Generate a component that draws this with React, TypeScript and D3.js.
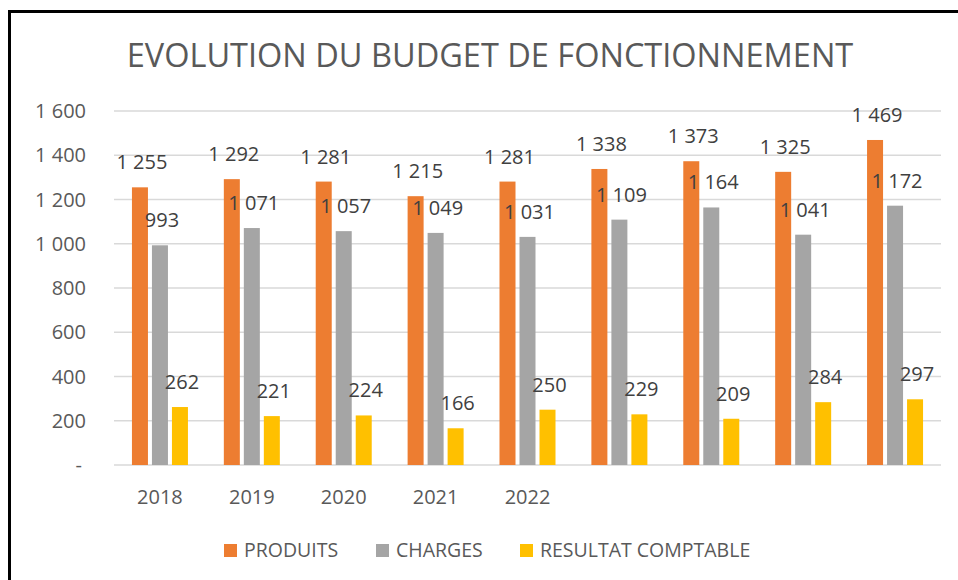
import React from 'react';
import * as d3 from 'd3';

// chart values
const years = ['2018', '2019', '2020', '2021', '2022', '', '', '', ''];
const produits = [1255, 1292, 1281, 1215, 1281, 1338, 1373, 1325, 1469];
const charges = [993, 1071, 1057, 1049, 1031, 1109, 1164, 1041, 1172];
const resultat = [262, 221, 224, 166, 250, 229, 209, 284, 297];
const seriesNames = ['PRODUITS', 'CHARGES', 'RESULTAT COMPTABLE'];
const yTicks = [0, 200, 400, 600, 800, 1000, 1200, 1400, 1600];

const colors = ['#ED7D31', '#A5A5A5', '#FFC000'];
const textColor = '#595959';
const font = '"Open Sans", sans-serif';

const fmt = (v: number) => {
  if (v === 0) return '-';
  const s = String(v);
  return s.length > 3 ? s.slice(0, s.length - 3) + ' ' + s.slice(-3) : s;
};

export default function App() {
  const width = 958,
    height = 580;
  const margin = { top: 111, right: 17, bottom: 115, left: 114 };
  const innerW = width - margin.left - margin.right;

  const x = d3
    .scaleBand()
    .domain(d3.range(years.length).map(String))
    .range([margin.left, margin.left + innerW]);

  const y = d3
    .scaleLinear()
    .domain([0, 1600])
    .range([height - margin.bottom, margin.top]);

  const series = [produits, charges, resultat];
  const barW = 16;
  const gap = 4;
  const groupW = barW * 3 + gap * 2;

  return (
    <svg
      width={width}
      height={height}
      style={{ position: 'absolute', left: 0, top: 0, background: '#fff' }}
      fontFamily={font}
    >
      <rect x={0} y={0} width={width} height={height} fill="#fff" />
      <rect x={9.5} y={11.5} width={980} height={600} fill="none" stroke="#000" strokeWidth={3} />

      <text
        x={490}
        y={67}
        textAnchor="middle"
        fontSize={32.5}
        fill={textColor}
      >
        EVOLUTION DU BUDGET DE FONCTIONNEMENT
      </text>

      {/* gridlines + y labels */}
      {yTicks.map((t) => (
        <g key={t}>
          <line
            x1={margin.left}
            x2={margin.left + innerW}
            y1={y(t)}
            y2={y(t)}
            stroke="#D9D9D9"
            strokeWidth={1.5}
          />
          <text
            x={t === 0 ? 82 : 86}
            y={y(t) + 7}
            textAnchor="end"
            fontSize={20}
            fill={textColor}
          >
            {fmt(t)}
          </text>
        </g>
      ))}

      {/* bars */}
      {series.map((vals, si) =>
        vals.map((v, i) => {
          const bx = x(String(i))! + x.bandwidth() / 2 - groupW / 2 + si * (barW + gap);
          return (
            <rect
              key={si + '-' + i}
              x={bx}
              y={y(v)}
              width={barW}
              height={y(0) - y(v)}
              fill={colors[si]}
            />
          );
        })
      )}

      {/* data labels */}
      {series.map((vals, si) =>
        vals.map((v, i) => {
          const cx = x(String(i))! + x.bandwidth() / 2 - groupW / 2 + si * (barW + gap) + barW / 2;
          return (
            <text
              key={'l' + si + '-' + i}
              x={cx + 2}
              y={y(v) - 18}
              textAnchor="middle"
              fontSize={20}
              fill="#404040"
            >
              {fmt(v)}
            </text>
          );
        })
      )}

      {/* x labels */}
      {years.map((yr, i) => (
        <text
          key={'x' + i}
          x={x(String(i))! + x.bandwidth() / 2}
          y={504}
          textAnchor="middle"
          fontSize={20}
          fill={textColor}
        >
          {yr}
        </text>
      ))}

      {/* legend */}
      {seriesNames.map((name, i) => {
        const lx = [224, 376, 520][i];
        return (
          <g key={name}>
            <rect x={lx} y={544} width={13} height={13} fill={colors[i]} />
            <text x={lx + 20} y={557} fontSize={19.5} fill={textColor}>
              {name}
            </text>
          </g>
        );
      })}
    </svg>
  );
}
